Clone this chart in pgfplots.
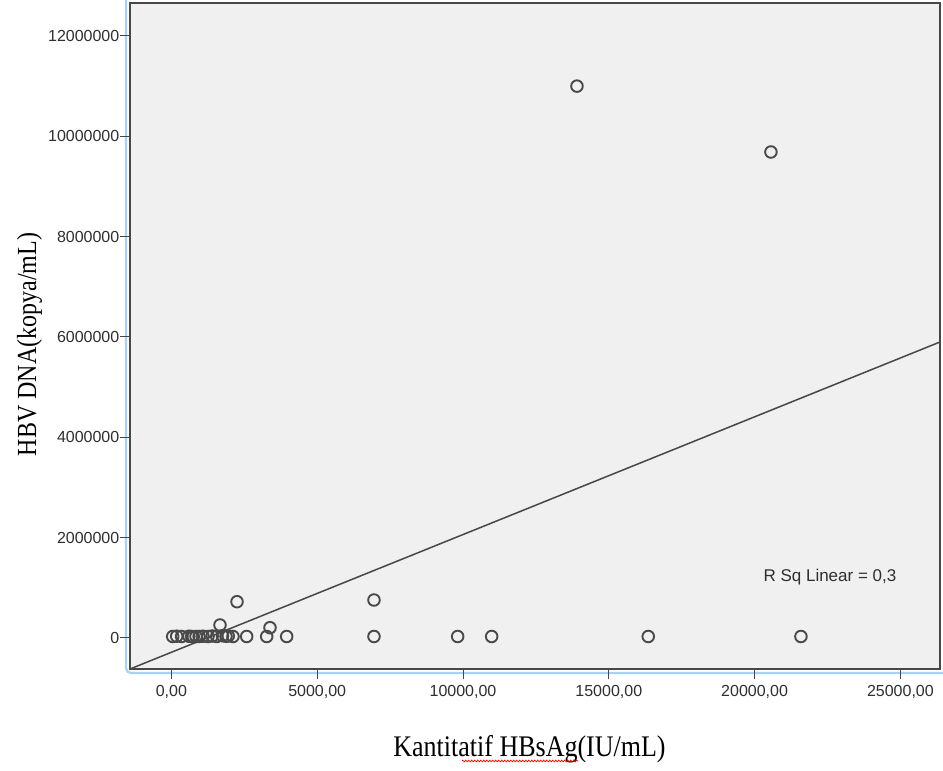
\documentclass[border=0pt]{standalone}
\usepackage{fontspec}
\setmainfont{Liberation Serif}
\setsansfont{Liberation Sans}
\usepackage{pgfplots}
\pgfplotsset{compat=1.18}
\usetikzlibrary{decorations.pathmorphing}
\definecolor{bgcol}{HTML}{F0F0F0}
\definecolor{framecol}{HTML}{474747}
\definecolor{tickcol}{HTML}{2F2F2F}
\definecolor{markcol}{HTML}{4A4A4A}
\definecolor{bluebord}{HTML}{A9D1F5}
\begin{document}
\begin{tikzpicture}
\useasboundingbox (0pt,0pt) rectangle (943pt,771pt);
\fill[white] (0pt,0pt) rectangle (943pt,771pt);
\draw[bluebord, line width=2.2pt, rounded corners=5pt] (126pt,775pt) -- (126pt,98pt) -- (945pt,98pt);
\begin{axis}[
  at={(130pt,102pt)}, anchor=south west,
  scale only axis, width=810pt, height=666pt,
  xmin=-1420, xmax=26358, ymin=-618000, ymax=12657000,
  axis background/.style={fill=bgcol},
  axis line style={draw=framecol, line width=1.6pt},
  tick pos=left, tick align=outside,
  major tick length=10pt,
  tick style={draw=framecol, line width=1pt},
  xtick={0,5000,10000,15000,20000,25000},
  xticklabels={{0,00},{5000,00},{10000,00},{15000,00},{20000,00},{25000,00}},
  ytick={0,2000000,4000000,6000000,8000000,10000000,12000000},
  yticklabels={0,2000000,4000000,6000000,8000000,10000000,12000000},
  scaled ticks=false,
  ticklabel style={font=\fontsize{16}{19}\selectfont\sffamily, text=tickcol},
  yticklabel style={inner sep=0.5pt},
  xticklabel style={inner sep=1pt, yshift=-5pt},
  clip=true,
]
\addplot[framecol, line width=1.5pt] coordinates {(-1420,-618000) (26358,5900000)};
\addplot[only marks, mark=o, mark size=5.8pt, mark options={draw=markcol, line width=1.9pt}] coordinates {
(13908,11000000) (20560,9687000)
(2250,723000) (6947,757000) (1666,259000) (3381,205000)
(45,30000) (182,35000) (350,30000) (600,35000) (696,30000) (750,25000) (844,30000)
(950,30000) (1084,35000) (1255,30000) (1400,40000) (1553,30000) (1750,45000)
(1872,35000) (1950,40000) (2112,30000) (2582,30000) (3268,30000) (3954,30000)
(6947,30000) (9817,30000) (10983,30000) (16353,30000) (21589,30000)
};
\node[font=\fontsize{17}{20}\selectfont\sffamily, text=tickcol] at (axis cs:22584,1216000) {R Sq Linear = 0,3};
\end{axis}
\node[font=\fontsize{26}{30}\selectfont, anchor=base] at (529.5pt,14pt) {\scalebox{1}[1.15]{Kantitatif HBsAg(IU/mL)}};
\draw[red, line width=0.6pt, decoration={zigzag, segment length=3pt, amplitude=1pt}, decorate] (462pt,10pt) -- (578pt,10pt);
\node[font=\fontsize{24}{30}\selectfont, anchor=base, rotate=90] at (36pt,426.5pt) {\scalebox{1}[1.15]{HBV DNA(kopya/mL)}};
\end{tikzpicture}
\end{document}
